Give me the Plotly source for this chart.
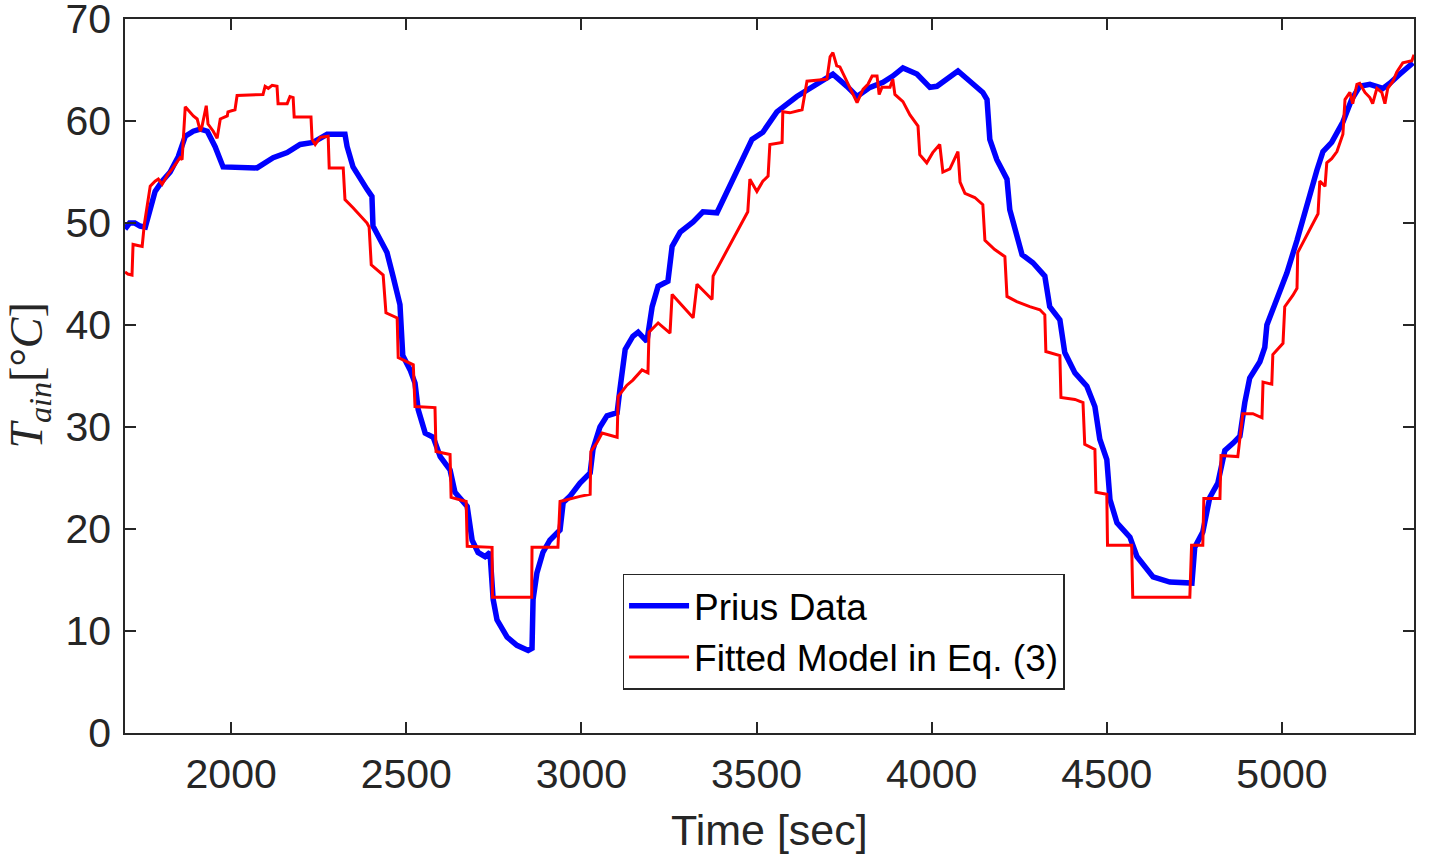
import plotly.graph_objects as go

# Prius data (blue) - time [sec], temperature [C]
prius_t = [1697, 1710, 1725, 1740, 1755, 1769, 1783, 1803, 1826, 1849, 1869, 1892, 1912, 1932,
           1954, 1977, 2074, 2120, 2160, 2197, 2234, 2274, 2325, 2331, 2348, 2388, 2402, 2405,
           2425, 2445, 2462, 2477, 2482, 2486, 2490, 2511, 2525, 2534, 2554, 2577, 2597, 2625,
           2639, 2674, 2688, 2705, 2725, 2739, 2748, 2759, 2788, 2816, 2848, 2859, 2862, 2873,
           2890, 2910, 2939, 2948, 2967, 2996, 3025, 3033, 3053, 3073, 3102, 3110, 3125, 3147,
           3162, 3187, 3202, 3219, 3247, 3259, 3282, 3319, 3347, 3387, 3424, 3453, 3487, 3518,
           3558, 3615, 3672, 3718, 3758, 3787, 3824, 3861, 3889, 3918, 3958, 3995, 4015, 4075,
           4109, 4146, 4158, 4166, 4186, 4215, 4223, 4243, 4258, 4289, 4323, 4337, 4366, 4380,
           4409, 4443, 4466, 4480, 4500, 4509, 4529, 4566, 4586, 4632, 4680, 4743, 4751, 4774,
           4794, 4817, 4837, 4860, 4880, 4894, 4908, 4937, 4951, 4957, 4985, 5014, 5043, 5071,
           5100, 5117, 5142, 5174, 5199, 5222, 5251, 5288, 5308, 5337, 5374]
prius_temp = [49.4, 50.0, 50.0, 49.7, 49.6, 51.6, 53.1, 54.1, 55.0, 56.5, 58.5, 59.0, 59.2, 59.0,
              57.5, 55.5, 55.4, 56.4, 56.9, 57.7, 57.9, 58.7, 58.7, 57.5, 55.5, 53.3, 52.6, 49.7,
              48.4, 47.1, 44.8, 42.5, 42.0, 39.5, 37.0, 35.6, 34.3, 31.7, 29.4, 29.0, 27.1, 25.8,
              23.6, 22.2, 18.9, 17.7, 17.3, 17.7, 13.1, 11.1, 9.4, 8.6, 8.1, 8.3, 13.1, 15.7,
              17.7, 18.9, 19.9, 22.6, 23.2, 24.5, 25.5, 27.8, 30.0, 31.1, 31.4, 33.7, 37.6, 38.9,
              39.3, 38.4, 41.8, 43.8, 44.3, 47.7, 49.1, 50.1, 51.1, 51.0, 53.6, 55.9, 58.2, 58.9,
              60.9, 62.4, 63.6, 64.6, 63.4, 62.4, 63.3, 63.8, 64.4, 65.2, 64.6, 63.3, 63.4, 64.9,
              63.9, 62.8, 62.1, 58.2, 56.2, 54.3, 51.3, 48.5, 46.9, 46.1, 44.8, 41.8, 40.5, 37.3,
              35.3, 34.0, 32.0, 28.8, 26.8, 22.9, 20.6, 19.2, 17.3, 15.3, 14.8, 14.7, 18.2, 19.7,
              23.1, 24.5, 27.7, 28.4, 29.1, 32.4, 34.8, 36.4, 37.8, 40.0, 42.5, 45.1, 48.3, 51.9,
              55.2, 57.0, 57.9, 59.9, 62.1, 63.4, 63.6, 63.2, 63.7, 64.6, 65.7]

# fitted model (red)
model_t = [1697, 1705, 1717, 1720, 1746, 1752, 1769, 1783, 1792, 1803, 1820, 1834, 1854, 1860,
           1869, 1877, 1892, 1903, 1912, 1917, 1929, 1934, 1949, 1960, 1969, 1989, 1991, 2011,
           2017, 2091, 2097, 2106, 2117, 2131, 2134, 2160, 2168, 2177, 2180, 2228, 2231, 2240,
           2254, 2277, 2280, 2320, 2325, 2348, 2388, 2394, 2400, 2434, 2442, 2474, 2477, 2520,
           2525, 2582, 2585, 2625, 2628, 2671, 2674, 2745, 2746, 2858, 2859, 2933, 2939, 2996,
           3025, 3027, 3045, 3059, 3102, 3105, 3130, 3147, 3173, 3190, 3193, 3219, 3253, 3259,
           3319, 3330, 3373, 3376, 3416, 3444, 3467, 3475, 3481, 3501, 3518, 3533, 3538, 3573,
           3575, 3595, 3630, 3644, 3701, 3710, 3718, 3729, 3738, 3758, 3787, 3804, 3818, 3830,
           3844, 3850, 3858, 3881, 3889, 3895, 3918, 3938, 3961, 3966, 3986, 4003, 4023, 4032,
           4052, 4075, 4081, 4095, 4123, 4146, 4152, 4180, 4209, 4215, 4243, 4280, 4309, 4323,
           4326, 4366, 4369, 4409, 4432, 4437, 4466, 4469, 4500, 4502, 4571, 4574, 4737, 4742,
           4774, 4777, 4823, 4826, 4874, 4888, 4917, 4943, 4946, 4971, 4974, 5003, 5008, 5031,
           5043, 5045, 5074, 5103, 5108, 5123, 5128, 5142, 5157, 5174, 5180, 5194, 5202, 5214,
           5222, 5237, 5251, 5259, 5271, 5285, 5294, 5302, 5317, 5328, 5345, 5371, 5377]
model_temp = [45.2, 45.0, 44.9, 47.9, 47.7, 49.8, 53.6, 54.1, 54.3, 53.8, 54.8, 55.4, 56.4, 56.2,
              61.4, 61.1, 60.5, 60.2, 59.0, 59.5, 61.5, 59.7, 59.0, 58.3, 60.2, 60.5, 60.9, 61.1,
              62.5, 62.6, 63.4, 63.2, 63.5, 63.4, 61.7, 61.7, 62.4, 62.3, 60.4, 60.4, 58.2, 57.7,
              58.4, 58.5, 55.4, 55.4, 52.3, 51.5, 50.0, 49.6, 45.9, 44.9, 41.2, 40.7, 36.8, 36.1,
              32.0, 31.9, 27.6, 27.3, 23.1, 22.7, 18.3, 18.2, 13.3, 13.3, 18.2, 18.2, 22.7, 23.2,
              23.4, 27.6, 28.5, 29.4, 29.0, 33.0, 34.1, 34.6, 35.6, 35.3, 39.3, 40.2, 39.2, 43.0,
              40.7, 44.0, 42.5, 44.8, 47.4, 49.1, 50.6, 51.1, 54.3, 53.1, 54.1, 54.6, 57.7, 57.9,
              60.9, 60.8, 61.1, 63.9, 64.1, 66.3, 66.7, 65.4, 65.3, 63.8, 61.8, 63.1, 63.6, 64.4,
              64.4, 62.6, 63.3, 63.3, 64.1, 62.6, 61.9, 60.6, 59.5, 56.7, 55.9, 56.9, 57.7, 55.0,
              55.3, 57.0, 54.0, 52.9, 52.5, 51.8, 48.3, 47.4, 46.7, 42.8, 42.3, 41.8, 41.5, 41.0,
              37.4, 37.0, 32.9, 32.7, 32.4, 28.3, 27.8, 23.6, 23.4, 18.4, 18.4, 13.3, 13.3, 18.4,
              18.4, 23.0, 23.0, 27.2, 27.1, 31.3, 31.3, 30.9, 34.4, 34.2, 37.1, 38.2, 41.8, 42.9,
              43.6, 47.1, 49.0, 50.9, 54.1, 53.6, 55.9, 56.3, 57.0, 58.7, 62.1, 62.8, 61.7, 63.6,
              63.7, 62.8, 62.3, 61.7, 63.2, 62.8, 61.7, 63.2, 63.9, 64.8, 65.7, 65.9, 66.5]

x_ticks = [2000, 2500, 3000, 3500, 4000, 4500, 5000]
y_ticks = [0, 10, 20, 30, 40, 50, 60, 70]

axis_col = "#262626"
sans = "Liberation Sans, Arial, Helvetica, sans-serif"

fig = go.Figure()
fig.add_trace(go.Scatter(x=prius_t, y=prius_temp, mode="lines", name="Prius Data",
                         line=dict(color="#0000FF", width=5.5)))
fig.add_trace(go.Scatter(x=model_t, y=model_temp, mode="lines", name="Fitted Model in Eq. (3)",
                         line=dict(color="#FF0000", width=3)))

fig.update_layout(
    width=1430, height=858,
    margin=dict(l=125, r=16, t=19, b=125),
    paper_bgcolor="white", plot_bgcolor="white",
    font=dict(family=sans, size=41, color=axis_col),
    legend=dict(x=0.386, y=0.223, xanchor="left", yanchor="top",
                bgcolor="white", bordercolor=axis_col, borderwidth=1.5,
                font=dict(size=37, color="black"), itemwidth=60,
                tracegroupgap=0),
)
fig.update_xaxes(range=[1697, 5377], tickvals=x_ticks, ticks="inside", ticklen=11,
                 tickcolor=axis_col, tickwidth=1.5, showline=True, linecolor=axis_col,
                 linewidth=1.5, mirror="ticks", showgrid=False, zeroline=False,
                 automargin=False, ticklabelstandoff=4,
                 tickfont=dict(size=41, color=axis_col))
fig.update_yaxes(range=[0, 70], tickvals=y_ticks, ticks="inside", ticklen=11,
                 tickcolor=axis_col, tickwidth=1.5, showline=True, linecolor=axis_col,
                 linewidth=1.5, mirror="ticks", showgrid=False, zeroline=False,
                 automargin=False, ticklabelstandoff=4, ticklabeloverflow="allow",
                 tickfont=dict(size=41, color=axis_col))

fig.add_annotation(text="Time [sec]", xref="paper", yref="paper", x=0.5, y=-0.136,
                   xanchor="center", yanchor="middle", showarrow=False,
                   font=dict(size=43, color=axis_col, family=sans))
fig.add_annotation(text="<i>T</i><sub><i>ain</i></sub>[°<i>C</i>]", xref="paper", yref="paper",
                   x=-0.074, y=0.5, xanchor="center", yanchor="middle", textangle=-90,
                   showarrow=False,
                   font=dict(size=46, color=axis_col, family="Liberation Serif, DejaVu Serif, serif"))

# drop the page's default body margin so the figure fills the window from the corner
fig.write_html("out.html", config={"displayModeBar": False},
               post_script="document.body.style.margin = '0';")
